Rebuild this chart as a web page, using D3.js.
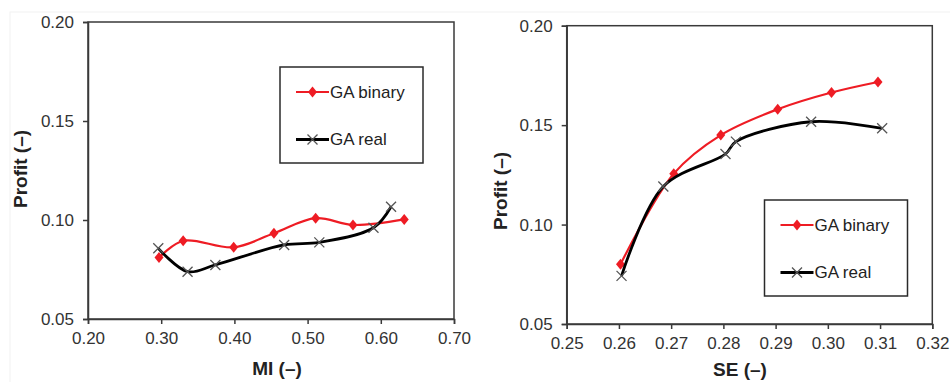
<!DOCTYPE html>
<html>
<head>
<meta charset="utf-8">
<script src="https://cdn.jsdelivr.net/npm/d3@7"></script>
<style>
  body { margin: 0; background: #fff; }
  svg text { font-family: "Liberation Sans", Arial, sans-serif; }
</style>
</head>
<body>
<svg id="chart" width="950" height="382"></svg>
<script>
// ---- data ----
var miBinaryX = [0.297, 0.330, 0.399, 0.454, 0.511, 0.562, 0.632]
var miBinaryY = [0.0810, 0.0895, 0.0862, 0.0933, 0.1009, 0.0975, 0.1003]
var miRealX = [0.296, 0.336, 0.374, 0.468, 0.516, 0.590, 0.614]
var miRealY = [0.0857, 0.0739, 0.0773, 0.0874, 0.0887, 0.0961, 0.1067]

var seBinaryX = [0.2603, 0.2705, 0.2795, 0.2904, 0.3007, 0.3096]
var seBinaryY = [0.0800, 0.1256, 0.1450, 0.1580, 0.1664, 0.1717]
var seRealX = [0.2605, 0.2685, 0.2804, 0.2824, 0.2968, 0.3104]
var seRealY = [0.0742, 0.1191, 0.1355, 0.1417, 0.1517, 0.1484]

var miTicks = [0.20, 0.30, 0.40, 0.50, 0.60, 0.70]
var seTicks = [0.25, 0.26, 0.27, 0.28, 0.29, 0.30, 0.31, 0.32]
var profitTicks = [0.05, 0.10, 0.15, 0.20]

var seriesNames = ["GA binary", "GA real"]
var red = "#ee1c24"

var svg = d3.select("#chart")

// faint frame of the scanned figure
svg.append("rect").attr("x", 10).attr("y", 12).attr("width", 960).attr("height", 400)
    .attr("fill", "none").attr("stroke", "#f2f2f2").attr("stroke-width", 1)

function zip(xs, ys) {
    return xs.map(function(x, i) { return [x, ys[i]] })
}

function drawPanel(opt) {
    var x = d3.scaleLinear().domain(opt.xDomain).range([opt.left, opt.right])
    var y = d3.scaleLinear().domain([0.05, 0.20]).range([opt.bottom, opt.top])
    var g = svg.append("g")

    // plot frame
    g.append("rect")
        .attr("x", opt.left).attr("y", opt.top)
        .attr("width", opt.right - opt.left).attr("height", opt.bottom - opt.top)
        .attr("fill", "none").attr("stroke", "#3a3a3a").attr("stroke-width", 1.5)

    var xAxis = g.append("g")
        .attr("transform", "translate(0," + opt.bottom + ")")
        .call(d3.axisBottom(x).tickValues(opt.xTicks).tickSize(5).tickPadding(8)
            .tickFormat(d3.format(".2f")))
    var yAxis = g.append("g")
        .attr("transform", "translate(" + opt.left + ",0)")
        .call(d3.axisLeft(y).tickValues(profitTicks).tickSize(5).tickPadding(9)
            .tickFormat(d3.format(".2f")))

    ;[xAxis, yAxis].forEach(function(a) {
        a.select(".domain").attr("stroke", "#3a3a3a").attr("stroke-width", 1.5)
        a.selectAll(".tick line").attr("stroke", "#3a3a3a").attr("stroke-width", 1.5)
        a.selectAll(".tick text").attr("fill", "#333").style("font-size", "17px")
    })

    // axis titles
    g.append("text")
        .attr("x", opt.xTitleX).attr("y", opt.xTitleY)
        .attr("text-anchor", "middle")
        .style("font-size", "19px").style("font-weight", "bold").attr("fill", "#222")
        .text(opt.xTitle)
    g.append("text")
        .attr("transform", "translate(" + opt.yTitleX + "," + opt.yTitleY + ") rotate(-90)")
        .attr("text-anchor", "middle").attr("dy", "0.35em")
        .style("font-size", "19px").style("font-weight", "bold").attr("fill", "#222")
        .text("Profit (\u2013)")

    var line = d3.line()
        .x(function(d) { return x(d[0]) })
        .y(function(d) { return y(d[1]) })
        .curve(d3.curveCatmullRom.alpha(0.5))

    var binary = zip(opt.binX, opt.binY)
    var real = zip(opt.realX, opt.realY)

    g.append("path").datum(binary).attr("d", line)
        .attr("fill", "none").attr("stroke", red).attr("stroke-width", 2.2)
    g.selectAll(".dia").data(binary).enter().append("path")
        .attr("transform", function(d) { return "translate(" + x(d[0]) + "," + y(d[1]) + ")" })
        .attr("d", "M0,-5.5L4.5,0L0,5.5L-4.5,0Z").attr("fill", red)

    g.append("path").datum(real).attr("d", line)
        .attr("fill", "none").attr("stroke", "#000").attr("stroke-width", 2.8)
    g.selectAll(".cross").data(real).enter().append("path")
        .attr("transform", function(d) { return "translate(" + x(d[0]) + "," + y(d[1]) + ")" })
        .attr("d", "M-5,-5L5,5M-5,5L5,-5")
        .attr("stroke", "#555").attr("stroke-width", 1.3).attr("fill", "none")

    // legend
    var lg = g.append("g").attr("transform", "translate(" + opt.legX + "," + opt.legY + ")")
    lg.append("rect").attr("width", 143).attr("height", 96)
        .attr("fill", "#fff").attr("stroke", "#2a2a2a").attr("stroke-width", 1.5)
    seriesNames.forEach(function(name, i) {
        var ly = 25 + i * 47.5
        var col = i == 0 ? red : "#000"
        lg.append("line").attr("x1", 16).attr("x2", 49).attr("y1", ly).attr("y2", ly)
            .attr("stroke", col).attr("stroke-width", i == 0 ? 2.2 : 2.8)
        if (i == 0) {
            lg.append("path").attr("transform", "translate(32.5," + ly + ")")
                .attr("d", "M0,-5.5L4.5,0L0,5.5L-4.5,0Z").attr("fill", red)
        } else {
            lg.append("path").attr("transform", "translate(32.5," + ly + ")")
                .attr("d", "M-5,-5L5,5M-5,5L5,-5")
                .attr("stroke", "#555").attr("stroke-width", 1.3)
        }
        lg.append("text").attr("x", 50).attr("y", ly).attr("dy", "0.35em")
            .style("font-size", "17px").attr("fill", "#222")
            .text(name)
    })
}

drawPanel({
    left: 88, right: 454, top: 22, bottom: 319,
    xDomain: [0.20, 0.70], xTicks: miTicks,
    binX: miBinaryX, binY: miBinaryY, realX: miRealX, realY: miRealY,
    xTitle: "MI (\u2013)", xTitleX: 277, xTitleY: 375,
    yTitleX: 20, yTitleY: 169,
    legX: 280, legY: 67
})

drawPanel({
    left: 566.7, right: 932.3, top: 25.7, bottom: 324,
    xDomain: [0.25, 0.32], xTicks: seTicks,
    binX: seBinaryX, binY: seBinaryY, realX: seRealX, realY: seRealY,
    xTitle: "SE (\u2013)", xTitleX: 740, xTitleY: 376,
    yTitleX: 500, yTitleY: 191,
    legX: 764.5, legY: 200
})
</script>
</body>
</html>
